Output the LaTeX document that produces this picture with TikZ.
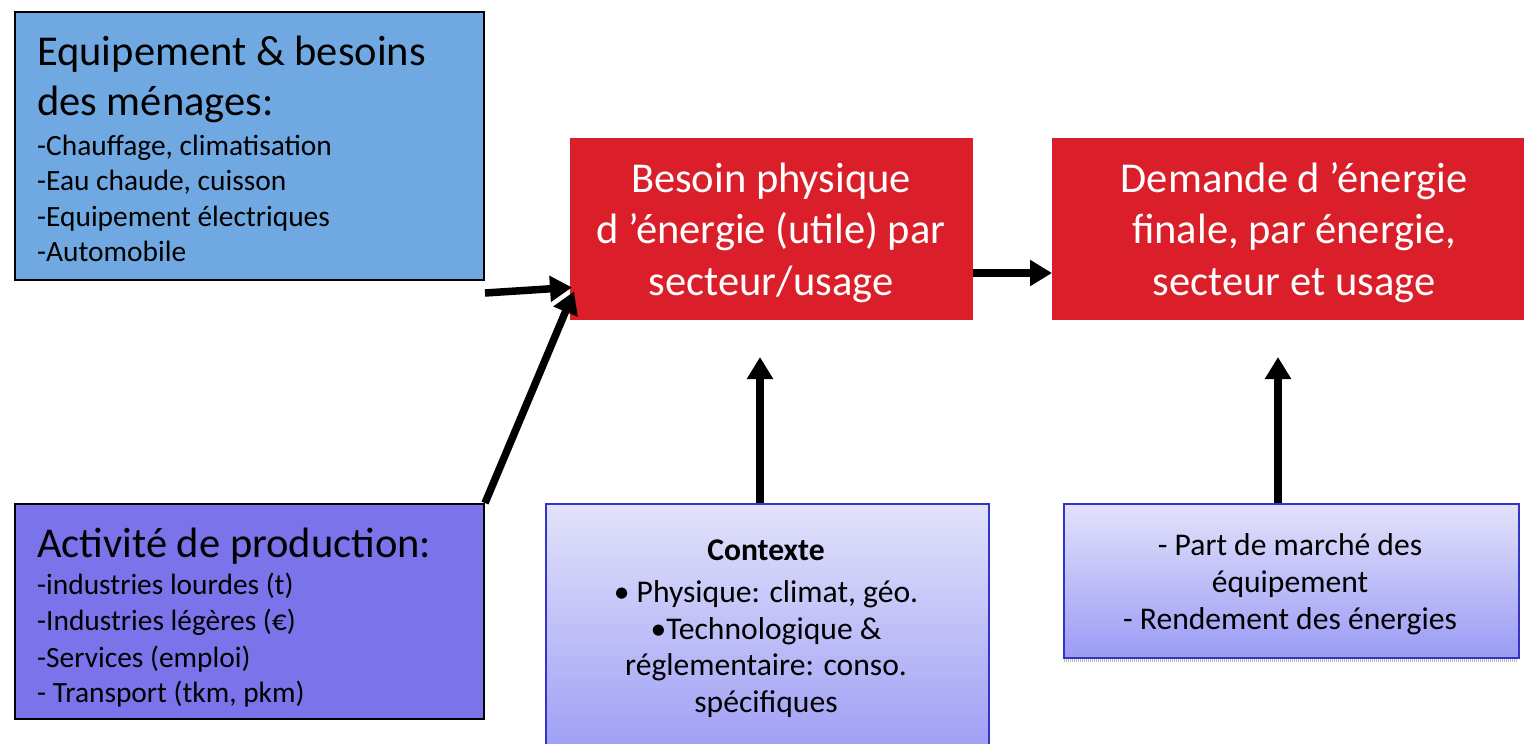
\documentclass[tikz,border=0pt]{standalone}
\usepackage{fontspec}
\setmainfont{Carlito}
\usetikzlibrary{arrows.meta,calc}
\definecolor{boxblue}{RGB}{112,169,226}
\definecolor{boxpurple}{RGB}{123,115,233}
\definecolor{boxred}{RGB}{218,31,42}
\definecolor{gradtop}{RGB}{226,226,251}
\definecolor{gradbot}{RGB}{155,155,245}
\definecolor{gradedge}{RGB}{52,52,200}
\newcommand{\bigtxt}{\fontsize{42.5}{50}\selectfont}
\newcommand{\smalltxt}{\fontsize{29.4}{35}\selectfont}
\newcommand{\gradtxt}{\fontsize{31.6}{37}\selectfont}
\begin{document}
\begin{tikzpicture}[x=1pt,y=-1pt,
  inbox/.style={draw=black, line width=2pt, rectangle, anchor=north west, inner sep=0pt},
  redbox/.style={fill=boxred, rectangle, anchor=north west, inner sep=0pt},
  gradbox/.style={draw=gradedge, line width=1.5pt, top color=gradtop, bottom color=gradbot, rectangle, anchor=north west, inner sep=0pt},
  bigl/.style={font=\bigtxt, anchor=base west, inner sep=0pt},
  smalll/.style={font=\smalltxt, anchor=base west, inner sep=0pt},
  redt/.style={font=\bigtxt, text=white, anchor=base, inner sep=0pt},
  gradt/.style={font=\gradtxt, anchor=base, inner sep=0pt},
  flow/.style={line width=7.5pt, -{Triangle[length=22pt,width=25pt]}}
]
\useasboundingbox (0,0) rectangle (1524,744);
% boxes
\node[inbox, fill=boxblue, minimum width=469pt, minimum height=268pt] (equip) at (14,11) {};
\node[inbox, fill=boxpurple, minimum width=469pt, minimum height=215pt] (prod) at (14,503) {};
\node[redbox, minimum width=403pt, minimum height=182pt] (besoin) at (570,138) {};
\node[redbox, minimum width=472pt, minimum height=182pt] (demande) at (1052,138) {};
\draw[gray!55, line width=3pt, dash pattern=on 1pt off 1pt] (1064,660) -- (1518,660);
\node[gradbox, minimum width=455pt, minimum height=154pt] (marche) at (1063,503) {};
\node[gradbox, minimum width=443pt, minimum height=260pt] (ctx) at (545,503) {};
% texts top-left
\node[bigl] (e1) at (37,65) {Equipement \& besoins};
\node[bigl] (e2) at (37,115) {des ménages:};
\node[smalll] (e3) at (37,155) {-Chauffage, climatisation};
\node[smalll] (e4) at (37,190) {-Eau chaude, cuisson};
\node[smalll] (e5) at (37,226) {-Equipement électriques};
\node[smalll] (e6) at (37,261) {-Automobile};
% texts bottom-left
\node[bigl] (p1) at (37,557) {Activité de production:};
\node[smalll] (p2) at (37,594) {-industries lourdes (t)};
\node[smalll] (p3) at (37,630) {-Industries légères (€)};
\node[smalll] (p4) at (37,667) {-Services (emploi)};
\node[smalll] (p5) at (37,702) {- Transport (tkm, pkm)};
% red texts
\node[redt] (b1) at (771,192) {Besoin physique};
\node[redt] (b2) at (771,243) {d ’énergie (utile) par};
\node[redt] (b3) at (771,295) {secteur/usage};
\node[redt] (d1) at (1294,192) {Demande d ’énergie};
\node[redt] (d2) at (1294,243) {finale, par énergie,};
\node[redt] (d3) at (1294,295) {secteur et usage};
% context texts
\node[gradt] (c1) at (766,560) {\bfseries Contexte};
\node[gradt] (c2) at (766,602) {• Physique: climat, géo.};
\node[gradt] (c3) at (766,639) {•Technologique \&};
\node[gradt] (c4) at (766,675) {réglementaire: conso.};
\node[gradt] (c5) at (766,712) {spécifiques};
% market texts
\node[gradt] (m1) at (1290,555) {- Part de marché des};
\node[gradt] (m2) at (1290,592) {équipement};
\node[gradt] (m3) at (1290,629) {- Rendement des énergies};
% connectors
\coordinate (hs) at ($(equip.south east)+(0,12)$);
\coordinate (ht) at ($(besoin.south west)+(2,-33)$);
\coordinate (dt) at ($(besoin.south west)+(4,-29)$);
\coordinate (rs) at (besoin.east |- 0,273);
\coordinate (rt) at (demande.west |- 0,273);
\coordinate (cs) at (ctx.north -| 760,0);
\coordinate (ms) at (marche.north -| 1278,0);
\draw[flow] (hs) -- (ht);
\draw[flow] (prod.north east) -- (dt);
\draw[flow] (rs) -- (rt);
\draw[flow] (cs) -- (760,357);
\draw[flow] (ms) -- (1278,357);
\end{tikzpicture}
\end{document}
